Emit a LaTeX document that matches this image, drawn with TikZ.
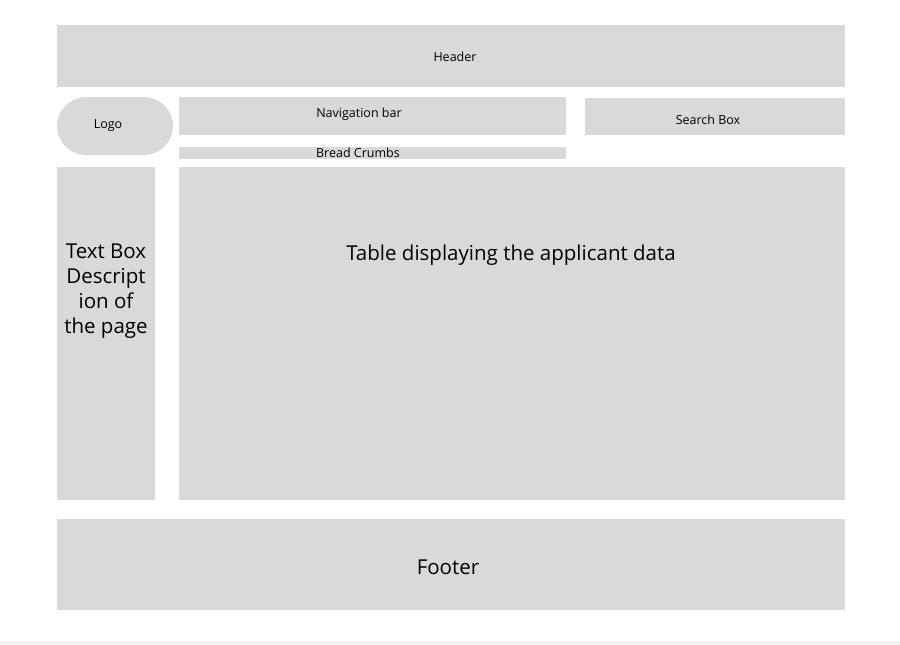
\documentclass[tikz,border=0pt]{standalone}
\usepackage{fontspec}
\setmainfont{Open Sans}
\usepackage{tikz}
\usetikzlibrary{positioning}
\definecolor{boxgray}{HTML}{D9D9D9}
\definecolor{bandgray}{HTML}{F3F3F3}

\tikzset{
    block/.style={rectangle,fill=boxgray,draw=none,inner sep=0pt},
    small/.style={font=\fontsize{12.5}{14}\selectfont},
    big/.style={font=\fontsize{20.5}{25}\selectfont,align=center}
}

\begin{document}
\begin{tikzpicture}[x=1pt,y=-1pt]
        \useasboundingbox (0,0) rectangle (900,645);
        \fill[bandgray] (0,641) rectangle (900,645);

        \node[block,minimum width=788pt,minimum height=62pt] (header) at (451,56) {};
        \node[block,rounded corners=29pt,minimum width=116pt,minimum height=58pt] (logo) at (115,126) {};
        \node[block,minimum width=387pt,minimum height=38pt] (nav) at (372.5,116) {};
        \node[block,minimum width=260pt,minimum height=37pt] (search) at (715,116.5) {};
        \node[block,minimum width=387pt,minimum height=12pt] (crumbs) at (372.5,153) {};
        \node[block,minimum width=98pt,minimum height=333pt] (textbox) at (106,333.5) {};
        \node[block,minimum width=666pt,minimum height=333pt] (table) at (512,333.5) {};
        \node[block,minimum width=788pt,minimum height=91pt] (footer) at (451,564.5) {};

        \node[small] (headertext) at (455,57) {Header};
        \node[small] (logotext) at (108,126) {Logo};
        \node[small] (navtext) at (359,114) {Navigation bar};
        \node[small] (searchtext) at (708,120) {Search Box};
        \node[small] (crumbstext) at (358,153) {Bread Crumbs};
        \node[big] (textboxtext) at (106,291) {Text Box\\Descript\\ion of\\the page};
        \node[big] (tabletext) at (511,255) {Table displaying the applicant data};
        \node[big] (footertext) at (448,567) {Footer};
\end{tikzpicture}
\end{document}
